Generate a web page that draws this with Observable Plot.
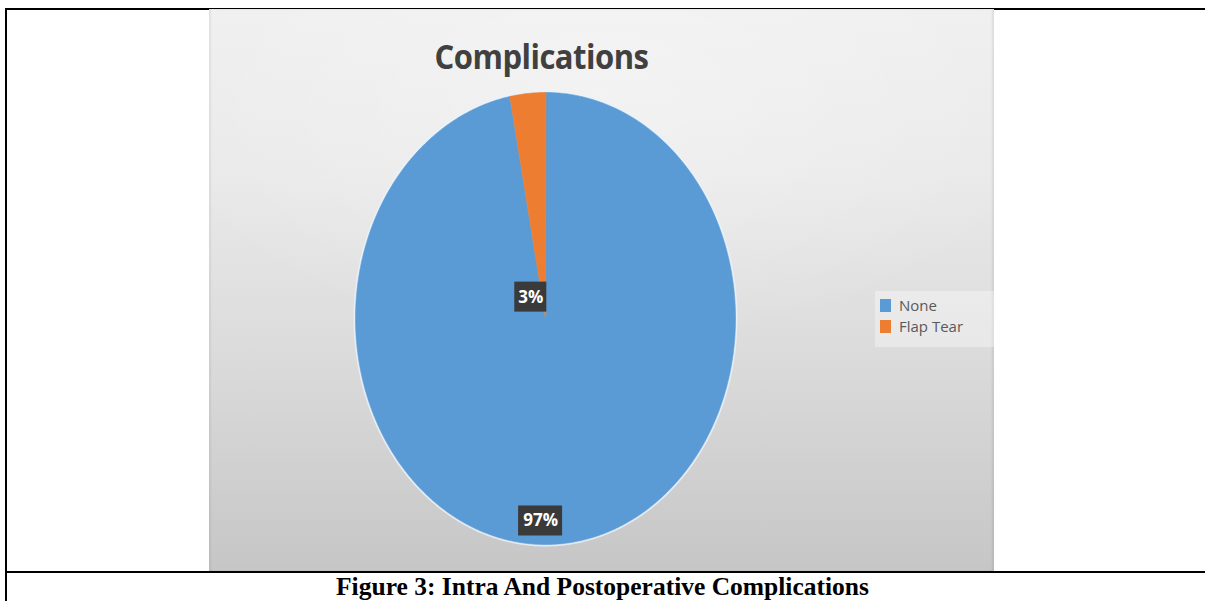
<!DOCTYPE html>
<html>
<head>
<meta charset="utf-8">
<script src="https://cdn.jsdelivr.net/npm/d3@7"></script>
<script src="https://cdn.jsdelivr.net/npm/@observablehq/plot@0.6"></script>
<style>
  html, body { margin: 0; padding: 0; background: #fff; }
  body { width: 1205px; height: 601px; position: relative; overflow: hidden; }
  .rule { position: absolute; background: #000; }
  #panel {
    position: absolute; left: 209px; top: 9px; width: 785px; height: 562px;
    background:
      radial-gradient(ellipse 60% 45% at 50% 15%, rgba(255,255,255,0.35) 0%, rgba(255,255,255,0) 100%),
      linear-gradient(to bottom, #efefef 0%, #e9e9e9 30%, #dcdcdc 60%, #c6c6c6 100%);
    box-shadow: inset 2px 0 2px rgba(0,0,0,0.06), inset -2px 0 2px rgba(0,0,0,0.08);
  }
  #chart { position: absolute; left: 0; top: 0; }
  #title {
    position: absolute; left: 0; top: 23px; width: 665px; text-align: center;
    font-family: "Open Sans", sans-serif; font-weight: 700; font-size: 31px;
    color: #404040; letter-spacing: -0.5px; transform: scaleY(1.12); transform-origin: top;
  }
  #legend {
    position: absolute; left: 666px; top: 282px; width: 119px; height: 56px;
    background: rgba(255,255,255,0.35);
    font-family: "Open Sans", sans-serif; font-size: 15px; color: #595959;
  }
  #legend .item { position: absolute; left: 5px; height: 20px; line-height: 20px; }
  #legend .sw { display: inline-block; width: 11px; height: 13px; vertical-align: -1px; margin-right: 8px; }
  #caption {
    position: absolute; left: 0; top: 572px; width: 1205px; text-align: center;
    font-family: "Liberation Serif", "Times New Roman", serif; font-weight: bold; font-size: 25.5px; color: #000;
    line-height: 29px;
  }
</style>
</head>
<body>
<div class="rule" style="left:5px;top:8px;width:1200px;height:2px"></div>
<div class="rule" style="left:5px;top:8px;width:2px;height:593px"></div>
<div class="rule" style="left:5px;top:571px;width:1200px;height:2px"></div>
<div id="panel">
  <div id="chart"></div>
  <div id="title"></div>
  <div id="legend"></div>
</div>
<div id="caption"></div>
<script>
// Complications recorded after the procedure
const categories = ["None", "Flap Tear"];
const percents = [97, 3];
const colors = ["#5B9BD5", "#ED7D31"];
const chartTitle = "Complications";
const figureCaption = "Figure 3: Intra And Postoperative Complications";

const slices = categories.map((name, i) => ({name, value: percents[i], label: `${percents[i]}%`}));

// label placement: fraction of the radius along the slice bisector, plus a small horizontal nudge
const labelPlacement = {"None": {r: 0.9, dx: -21}, "Flap Tear": {r: 0.095, dx: -13}};

const arcs = d3.pie().sort(null).value(d => d.value)(slices);

// polygon outline of every slice: centre, then points along its arc
const outline = [];
for (const a of arcs) {
  const steps = Math.max(8, Math.ceil((a.endAngle - a.startAngle) / 0.01));
  outline.push({name: a.data.name, x: 0, y: 0});
  for (let k = 0; k <= steps; k++) {
    const t = a.startAngle + (a.endAngle - a.startAngle) * k / steps;
    outline.push({name: a.data.name, x: Math.sin(t), y: Math.cos(t)});
  }
}

const labels = arcs.map(a => {
  const mid = (a.startAngle + a.endAngle) / 2;
  const p = labelPlacement[a.data.name];
  return {name: a.data.name, label: a.data.label, x: p.r * Math.sin(mid), y: p.r * Math.cos(mid), dx: p.dx};
});

const W = 785, H = 562;
const xRange = [146, 526], yRange = [535, 83];
const pxX = (xRange[1] - xRange[0]) / 2, pxY = (yRange[0] - yRange[1]) / 2;
const boxW = d => (d.label.length * 12 + 8) / pxX / 2;
const boxH = 15 / pxY;
const shiftX = d => d.dx / pxX;

const chart = Plot.plot({
  width: W, height: H,
  margin: 0,
  style: {background: "transparent", overflow: "visible"},
  x: {domain: [-1, 1], range: xRange, axis: null},
  y: {domain: [-1, 1], range: yRange, axis: null},
  color: {domain: categories, range: colors},
  marks: [
    // soft light rim around the pie
    Plot.line(outline, {x: "x", y: "y", z: "name", curve: "linear-closed",
      stroke: "#eaf2fb", strokeWidth: 4, strokeOpacity: 0.8, fill: "none"}),
    Plot.line(outline, {x: "x", y: "y", z: "name", curve: "linear-closed",
      fill: "name", stroke: "name", strokeWidth: 0.6}),
    Plot.rect(labels, {
      x1: d => d.x + shiftX(d) - boxW(d), x2: d => d.x + shiftX(d) + boxW(d),
      y1: d => d.y - boxH, y2: d => d.y + boxH,
      fill: "#3a3a3a"
    }),
    Plot.text(labels, {x: d => d.x + shiftX(d), y: "y", text: "label",
      fill: "white", fontWeight: "bold", fontSize: 17, fontFamily: "Open Sans, sans-serif"})
  ]
});
document.getElementById("chart").append(chart);

document.getElementById("title").textContent = chartTitle;
document.getElementById("caption").textContent = figureCaption;

const legend = document.getElementById("legend");
categories.forEach((name, i) => {
  const item = document.createElement("div");
  item.className = "item";
  item.style.top = (4 + i * 21) + "px";
  const sw = document.createElement("span");
  sw.className = "sw";
  sw.style.background = colors[i];
  item.append(sw, document.createTextNode(name));
  legend.append(item);
});
</script>
</body>
</html>
